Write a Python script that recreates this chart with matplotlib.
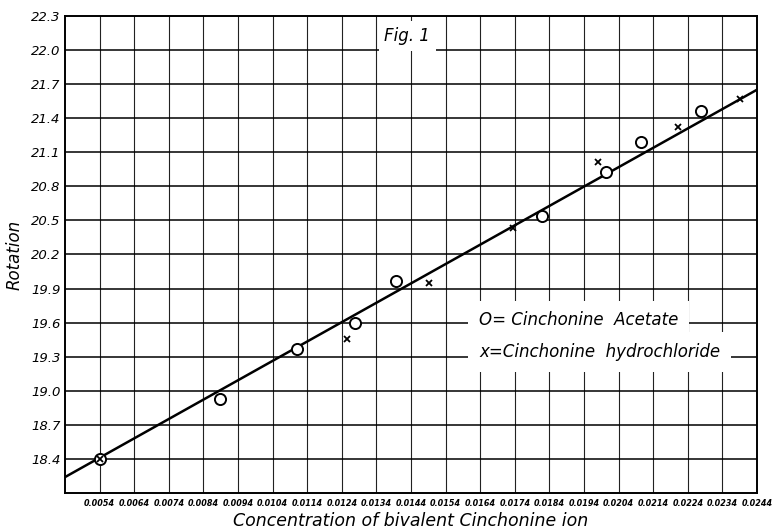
import numpy as np
import matplotlib
matplotlib.use("Agg")
import matplotlib.pyplot as plt

# values
acetate_x = [0.0054, 0.00889, 0.0111, 0.01278, 0.01397, 0.01818, 0.02003, 0.02106, 0.02277]
acetate_y = [18.40, 18.93, 19.37, 19.60, 19.97, 20.54, 20.93, 21.19, 21.46]
hcl_x = [0.0054, 0.01256, 0.01491, 0.01736, 0.01981, 0.02211, 0.02392]
hcl_y = [18.40, 19.46, 19.95, 20.43, 21.01, 21.32, 21.57]
fit_x = [0.0044, 0.0244]
fit_y = [18.24, 21.65]

xticks = [0.0054 + 0.001 * i for i in range(20)]
xlabels = ['%.4f' % v for v in xticks]
yticks = [18.4 + 0.3 * i for i in range(14)]
ylabels = ['%.1f' % v for v in yticks]

plt.rcParams['font.family'] = ['DejaVu Sans']

fig = plt.figure(figsize=(7.78, 5.29), dpi=100)
ax = fig.add_axes([0.0835, 0.068, 0.8895, 0.902])

ax.set_xlim(0.0044, 0.0244)
ax.set_ylim(18.1, 22.3)

# graph paper grid
for v in xticks[:-1]:
    ax.axvline(v, color='#222222', lw=0.8, zorder=1)
for v in yticks[:-1]:
    ax.axhline(v, color='black', lw=1.1, zorder=1)

ax.plot(fit_x, fit_y, color='black', lw=1.8, zorder=3)
ax.plot(acetate_x, acetate_y, 'o', ms=8, mfc='white', mec='black', mew=1.4, zorder=4)
ax.plot(hcl_x, hcl_y, 'x', ms=5, color='black', mew=1.3, zorder=5)

ax.set_xticks(xticks)
ax.set_xticklabels(xlabels, fontsize=5.8, style='italic', fontweight='bold')
ax.set_yticks(yticks)
ax.set_yticklabels(ylabels, fontsize=9.5, style='italic')
ax.tick_params(axis='both', length=0)
ax.tick_params(axis='x', pad=4)
ax.tick_params(axis='y', pad=3)

for s in ax.spines.values():
    s.set_linewidth(1.4)
    s.set_color('black')

ax.set_xlabel('Concentration of bivalent Cinchonine ion', fontsize=12.5, style='italic', labelpad=3)
ax.set_ylabel('Rotation', fontsize=12, style='italic', labelpad=6)

box = dict(boxstyle='square,pad=0.65', fc='white', ec='none')
ax.text(0.01363, 22.12, 'Fig. 1', fontsize=12, style='italic', ha='left', va='center',
        bbox=dict(boxstyle='square,pad=0.35', fc='white', ec='none'), zorder=2)
ax.text(0.01637, 19.62, 'O= Cinchonine  Acetate', fontsize=12, style='italic',
        ha='left', va='center', bbox=box, zorder=2)
ax.text(0.01637, 19.34, 'x=Cinchonine  hydrochloride', fontsize=12, style='italic',
        ha='left', va='center', bbox=box, zorder=2)

fig.savefig('out.png', dpi=100)
